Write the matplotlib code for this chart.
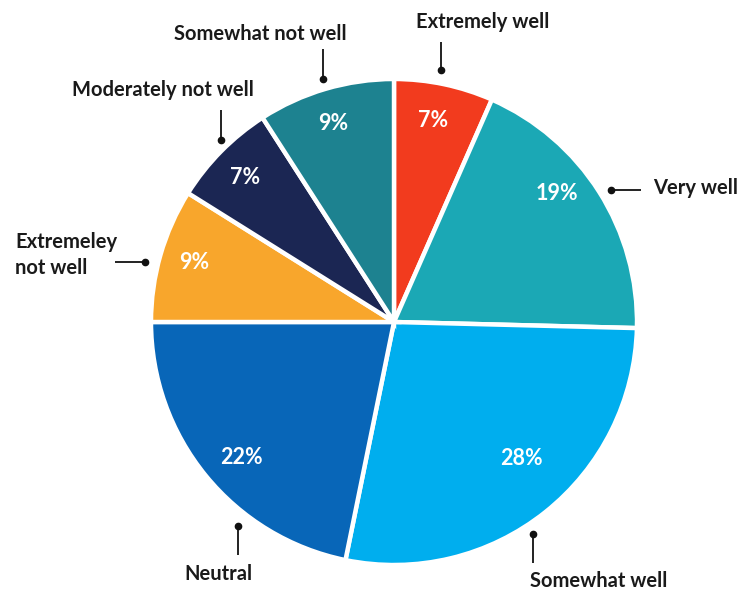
import numpy as np
import matplotlib
matplotlib.use("Agg")
import matplotlib.pyplot as plt

# slice data, clockwise from 12 o'clock
categories = ["Extremely well", "Very well", "Somewhat well", "Neutral",
              "Extremeley\nnot well", "Moderately not well", "Somewhat not well"]
shares     = [6.6, 18.8, 27.8, 21.8, 8.9, 7.0, 9.1]
pct_labels = ["7%", "19%", "28%", "22%", "9%", "7%", "9%"]
colors     = ["#F23B1E", "#1BA8B5", "#00AEEE", "#0866B8",
              "#F8A62C", "#1B2653", "#1D8290"]

# pixel geometry of the reference
W, H = 750, 590
CX, CY, R = 394, 322, 243


def px(x, y):
    """Pixel (from top-left) -> data units of the pie (radius 1)."""
    return (x - CX) / R, (CY - y) / R


# label layout: dot, end of leader line, text anchor, ha
LAYOUT = [
    ((441, 70), (441, 42), (483, 22), 'center'),
    ((611, 190), (641, 190), (653, 188), 'left'),
    ((533, 534), (533, 563), (599, 581), 'center'),
    ((238, 526), (238, 555), (218, 574), 'center'),
    ((145, 262), (115, 262), (15, 255), 'left'),
    ((221, 140), (221, 110), (163, 90), 'center'),
    ((323, 79), (323, 49), (260, 34), 'center'),
]
# percent label placement: radius fraction and angle shift (deg, clockwise +)
PCT_DIST  = [0.843, 0.855, 0.766, 0.84, 0.856, 0.853, 0.853]
PCT_SHIFT = [-0.9, -5.9, -4.5, -2.2, 0.6, -0.6, -0.7]

plt.rcParams['font.family'] = ['Lato', 'DejaVu Sans']

fig = plt.figure(figsize=(W / 100, H / 100), dpi=100)
ax = fig.add_axes([0, 0, 1, 1])

wedges, _ = ax.pie(shares, colors=colors, startangle=90, counterclock=False,
                   radius=1.0, center=(0, 0), frame=True,
                   wedgeprops=dict(edgecolor='white', linewidth=3.2))
ax.set_xlim((0 - CX) / R, (W - CX) / R)
ax.set_ylim((CY - H) / R, CY / R)
ax.set_aspect('equal')
ax.axis('off')

for w, lbl, d, s in zip(wedges, pct_labels, PCT_DIST, PCT_SHIFT):
    mid = np.deg2rad((w.theta1 + w.theta2) / 2 - s)
    ax.text(d * np.cos(mid), d * np.sin(mid), lbl, ha='center', va='center',
            color='white', fontsize=15.5, fontweight='bold')

for name, (dot, end, txt, ha) in zip(categories, LAYOUT):
    x0, y0 = px(*dot)
    x1, y1 = px(*end)
    ax.plot([x0, x1], [y0, y1], color='#111111', lw=1.3, solid_capstyle='butt')
    ax.plot(x0, y0, 'o', color='#111111', ms=4.5)
    tx, ty = px(*txt)
    ax.text(tx, ty, name, ha=ha, va='center', color='#1a1a1a',
            fontsize=14.5, fontweight='bold', linespacing=1.4)

fig.savefig('out.png', dpi=100, facecolor='white')
